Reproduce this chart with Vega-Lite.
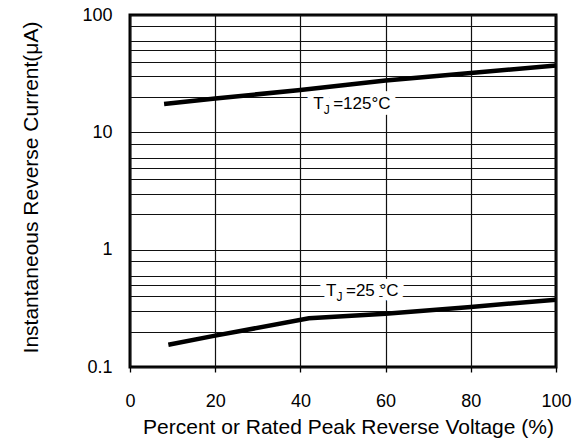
{
  "$schema": "https://vega.github.io/schema/vega-lite/v6.json",
  "width": 426,
  "height": 352,
  "autosize": {"type": "none"},
  "padding": {"left": 130, "top": 15, "right": 16, "bottom": 76},
  "background": "white",
  "config": {
    "view": {"stroke": "black", "strokeWidth": 3},
    "font": "Liberation Sans"
  },
  "datasets": {
    "curves": [
      {"tj": "125", "pct": 8, "current": 17.4},
      {"tj": "125", "pct": 20, "current": 19.4},
      {"tj": "125", "pct": 40, "current": 23.0},
      {"tj": "125", "pct": 60, "current": 27.6},
      {"tj": "125", "pct": 80, "current": 32.0},
      {"tj": "125", "pct": 100, "current": 37.2},
      {"tj": "25", "pct": 9, "current": 0.155},
      {"tj": "25", "pct": 20, "current": 0.185},
      {"tj": "25", "pct": 42, "current": 0.26},
      {"tj": "25", "pct": 60, "current": 0.285},
      {"tj": "25", "pct": 80, "current": 0.325},
      {"tj": "25", "pct": 100, "current": 0.375}
    ],
    "labels": [
      {"tj": "125", "pct": 43, "current": 17.4, "rest": "=125°C"},
      {"tj": "25", "pct": 46, "current": 0.443, "rest": "=25 °C"}
    ]
  },
  "encoding": {
    "x": {
      "field": "pct",
      "type": "quantitative",
      "scale": {"domain": [0, 100], "nice": false, "zero": false},
      "axis": {
        "title": "Percent or Rated Peak Reverse Voltage (%)",
        "values": [0, 20, 40, 60, 80, 100],
        "grid": true,
        "gridColor": "#111",
        "gridWidth": 1.2,
        "gridOpacity": 1,
        "domain": false,
        "ticks": true,
        "tickColor": "#000",
        "tickSize": 5,
        "tickWidth": 1.3,
        "labelFont": "Liberation Sans",
        "labelFontSize": 18,
        "labelColor": "#000",
        "labelPadding": 34,
        "labelBaseline": "alphabetic",
        "labelFlush": false,
        "labelOverlap": false,
        "titleFont": "Liberation Sans",
        "titleFontSize": 21,
        "titleFontWeight": "normal",
        "titleColor": "#000",
        "titleX": 218,
        "titleY": 66,
        "titleBaseline": "alphabetic"
      }
    },
    "y": {
      "field": "current",
      "type": "quantitative",
      "scale": {"type": "log", "domain": [0.1, 100], "nice": false},
      "axis": {
        "title": "Instantaneous Reverse Current(μA)",
        "values": [0.1, 0.2, 0.3, 0.4, 0.5, 0.6, 0.8, 1, 2, 3, 4, 5, 6, 8, 10, 20, 30, 40, 50, 60, 80, 100],
        "labelExpr": "datum.value == 0.1 ? '0.1' : datum.value == 1 ? '1' : datum.value == 10 ? '10' : datum.value == 100 ? '100' : ''",
        "grid": true,
        "gridColor": "#111",
        "gridWidth": 1.2,
        "gridOpacity": 1,
        "domain": false,
        "ticks": false,
        "tickSize": 0,
        "labelFont": "Liberation Sans",
        "labelFontSize": 18,
        "labelColor": "#000",
        "labelPadding": 18,
        "labelFlush": false,
        "labelOverlap": false,
        "titleFont": "Liberation Sans",
        "titleFontSize": 21,
        "titleFontWeight": "normal",
        "titleColor": "#000",
        "titleX": -93,
        "titleY": 172,
        "titleAngle": -90,
        "titleBaseline": "alphabetic"
      }
    }
  },
  "layer": [
    {
      "data": {"name": "labels"},
      "mark": {"type": "text", "text": "T", "font": "Liberation Sans", "fontSize": 17, "align": "left", "baseline": "middle", "fill": "white", "stroke": "white", "strokeWidth": 12, "strokeJoin": "round"}
    },
    {
      "data": {"name": "labels"},
      "mark": {"type": "text", "text": "J", "font": "Liberation Sans", "fontSize": 12, "align": "left", "baseline": "middle", "dx": 10.5, "dy": 6, "fill": "white", "stroke": "white", "strokeWidth": 12, "strokeJoin": "round"}
    },
    {
      "data": {"name": "labels"},
      "mark": {"type": "text", "font": "Liberation Sans", "fontSize": 17, "align": "left", "baseline": "middle", "dx": 20, "fill": "white", "stroke": "white", "strokeWidth": 12, "strokeJoin": "round"},
      "encoding": {"text": {"field": "rest"}}
    },
    {
      "data": {"name": "curves"},
      "mark": {"type": "line", "color": "black", "strokeWidth": 4.5, "strokeCap": "butt"},
      "encoding": {"detail": {"field": "tj"}}
    },
    {
      "data": {"name": "labels"},
      "mark": {"type": "text", "text": "T", "font": "Liberation Sans", "fontSize": 17, "align": "left", "baseline": "middle", "fill": "black"}
    },
    {
      "data": {"name": "labels"},
      "mark": {"type": "text", "text": "J", "font": "Liberation Sans", "fontSize": 12, "align": "left", "baseline": "middle", "dx": 10.5, "dy": 6, "fill": "black"}
    },
    {
      "data": {"name": "labels"},
      "mark": {"type": "text", "font": "Liberation Sans", "fontSize": 17, "align": "left", "baseline": "middle", "dx": 20, "fill": "black"},
      "encoding": {"text": {"field": "rest"}}
    }
  ]
}
